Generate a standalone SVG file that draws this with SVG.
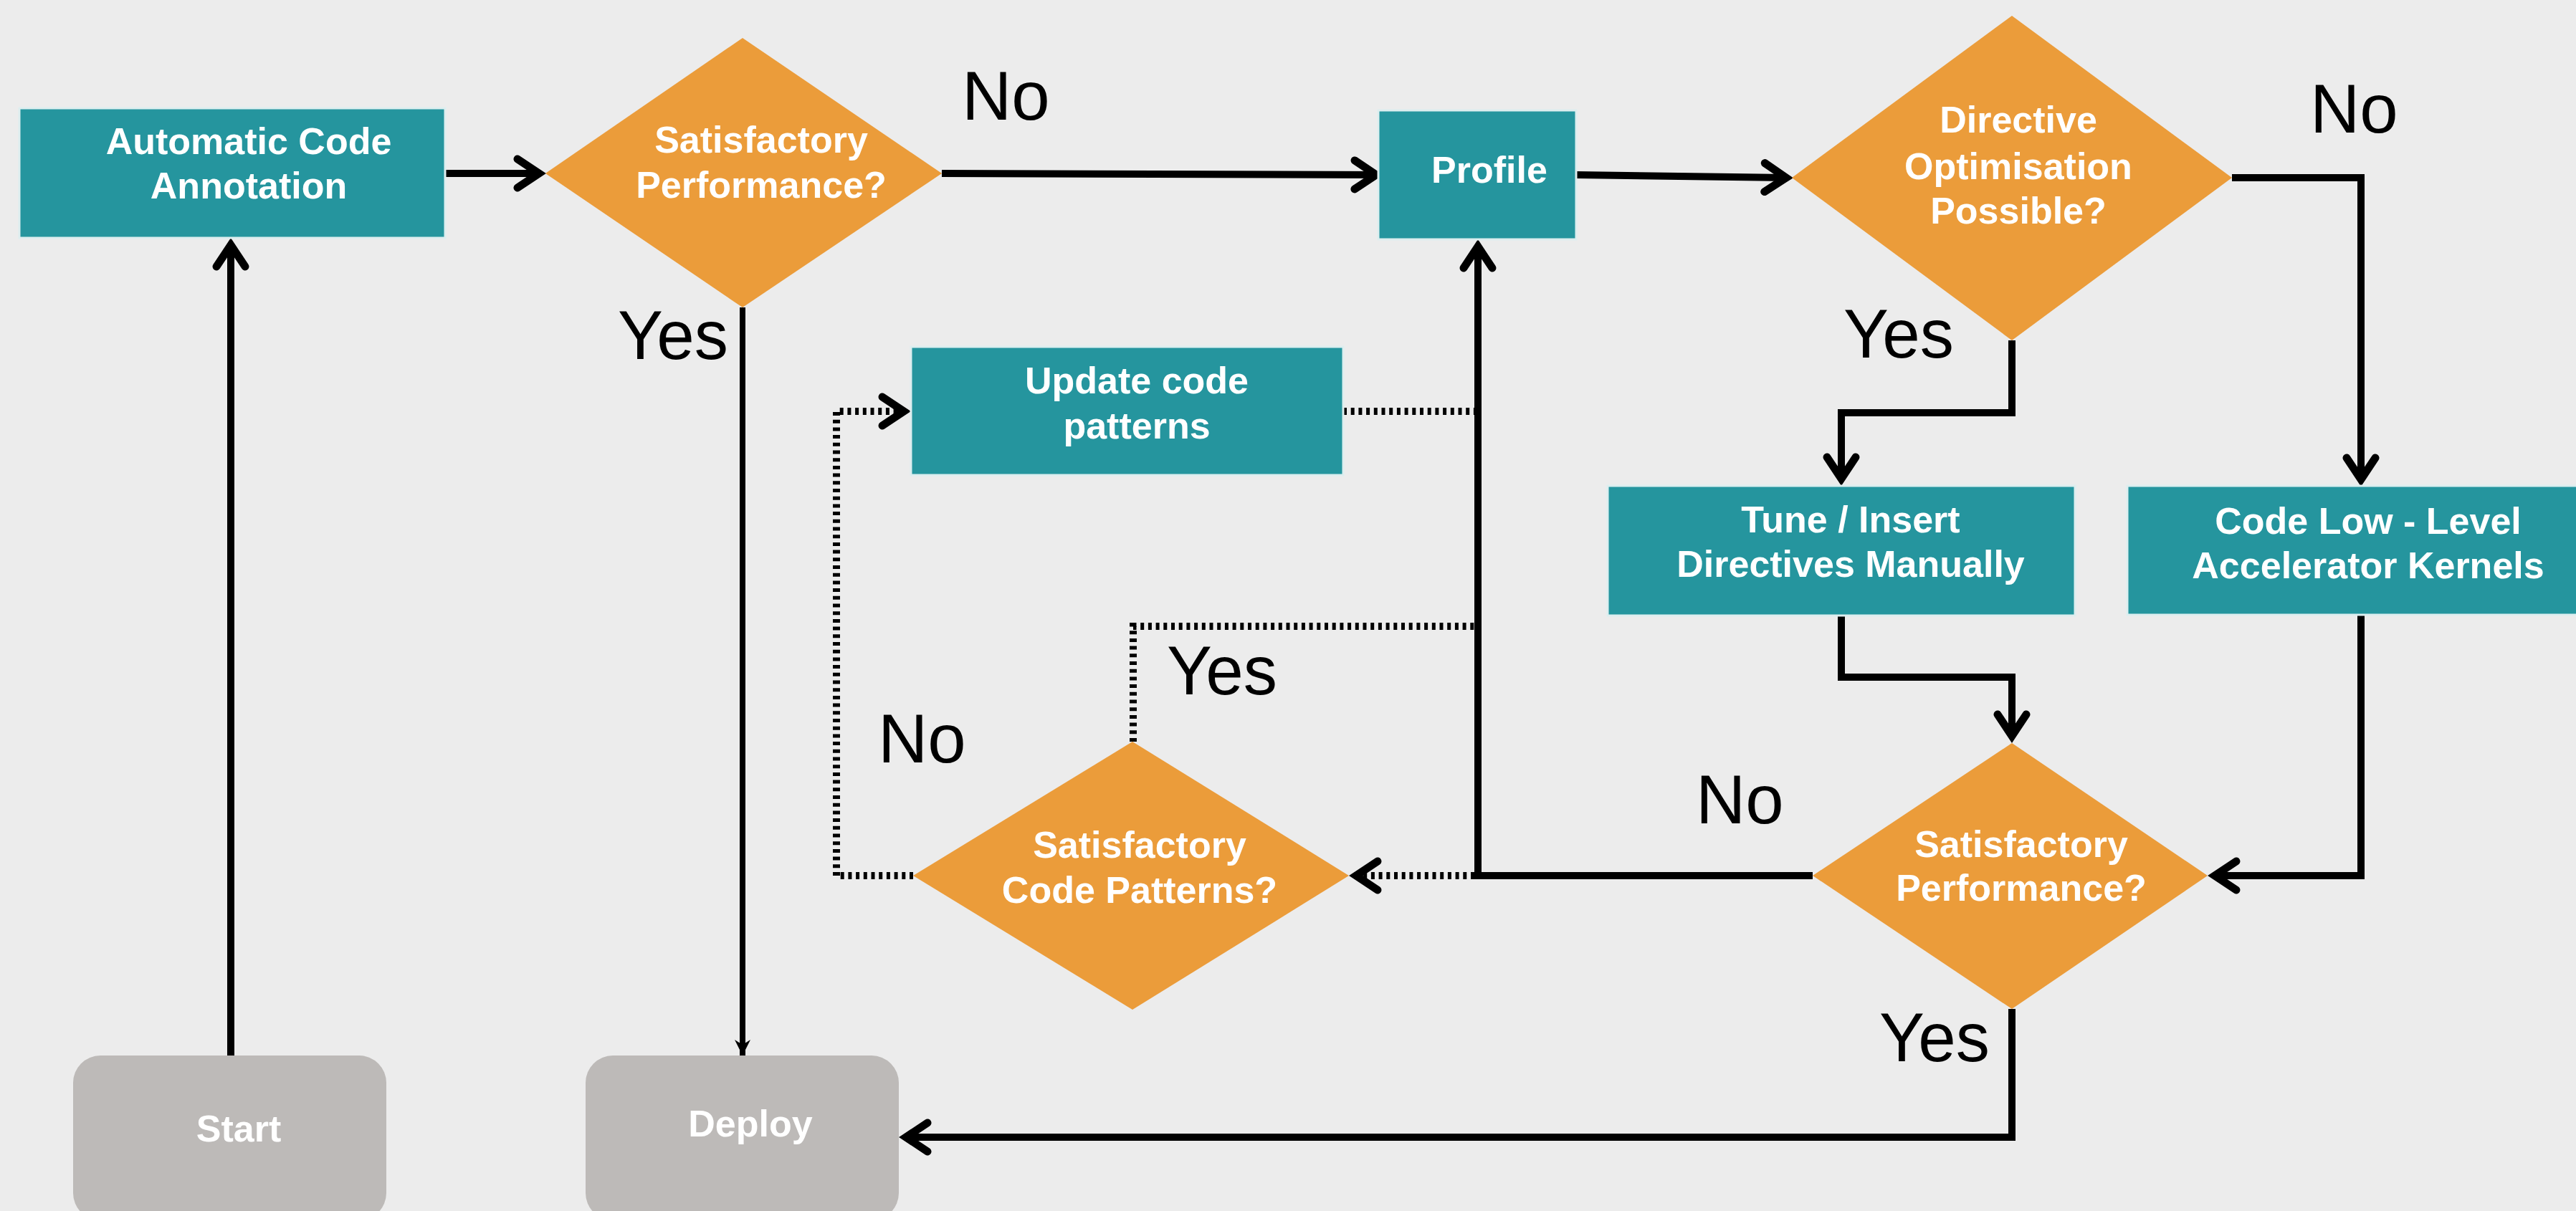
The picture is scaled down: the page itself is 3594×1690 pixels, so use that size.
<svg xmlns="http://www.w3.org/2000/svg" width="3594" height="1690" viewBox="0 0 3594 1690">
  <style>
    .bg { fill: #ECECEC; }
    .proc { fill: #25959E; stroke: #DDEEEF; stroke-width: 3; }
    .dec { fill: #EB9C3A; }
    .term { fill: #BDBAB8; }
    .nt { font-family: "Liberation Sans", Arial, sans-serif; font-weight: bold; font-size: 52px; fill: #FFFFFF; text-anchor: middle; }
    .lbl { font-family: "Liberation Sans", Arial, sans-serif; font-size: 96px; fill: #000000; }
    .ln { fill: none; stroke: #000000; stroke-width: 10; stroke-linejoin: miter; }
    .thin { stroke-width: 8; }
    .dot { fill: none; stroke: #000000; stroke-width: 10; stroke-dasharray: 5 5.7; }
  </style>
  <defs>
    <marker id="arr" markerUnits="userSpaceOnUse" orient="auto" refX="0" refY="0" markerWidth="60" markerHeight="60" viewBox="-40 -30 60 60" overflow="visible">
      <path d="M -30 -20 L 0 0 L -30 20" fill="none" stroke="#000000" stroke-width="11" stroke-linecap="round" stroke-linejoin="miter"/>
    </marker>
    <marker id="arrSmall" markerUnits="userSpaceOnUse" orient="auto" refX="0" refY="0" markerWidth="30" markerHeight="30" viewBox="-25 -15 30 30" overflow="visible">
      <path d="M 0 0 L -22 -11 L -15 0 L -22 11 Z" fill="#000000"/>
    </marker>
  </defs>

  <rect class="bg" x="0" y="0" width="3594" height="1690"/>

  <!-- connectors -->
  <g id="connectors">
    <!-- Start to Automatic Code Annotation -->
    <path class="ln" d="M 322 1473 L 322 342" marker-end="url(#arr)"/>
    <!-- Automatic Code Annotation to first decision -->
    <path class="ln" d="M 621 242 L 752 242" marker-end="url(#arr)"/>
    <!-- No: first decision to Profile -->
    <path class="ln" d="M 1314 242 L 1920 244" marker-end="url(#arr)"/>
    <!-- Yes: first decision to Deploy -->
    <path class="ln thin" d="M 1036 429 L 1036 1473" marker-end="url(#arrSmall)"/>
    <!-- Profile to directive decision -->
    <path class="ln" d="M 2199 244 L 2492 248" marker-end="url(#arr)"/>
    <!-- Yes: directive decision to Tune / Insert -->
    <path class="ln" d="M 2807 475 V 576 H 2569 V 668" marker-end="url(#arr)"/>
    <!-- No: directive decision to Code Low-Level -->
    <path class="ln" d="M 3114 248 H 3294 V 669" marker-end="url(#arr)"/>
    <!-- Tune / Insert to performance check -->
    <path class="ln" d="M 2569 859 V 945 H 2807 V 1027" marker-end="url(#arr)"/>
    <!-- Code Low-Level to performance check -->
    <path class="ln" d="M 3294 859 V 1222 H 3090" marker-end="url(#arr)"/>
    <!-- No: performance check back to Profile -->
    <path class="ln" d="M 2529 1222 H 2062 V 344" marker-end="url(#arr)"/>
    <!-- Yes: performance check to Deploy -->
    <path class="ln" d="M 2807 1408 V 1587 H 1264" marker-end="url(#arr)"/>
    <!-- dotted branch into code-pattern check -->
    <path class="dot" d="M 2057 1222 H 1892" marker-end="url(#arr)"/>
    <!-- dotted: Update code patterns back to Profile line -->
    <path class="dot" d="M 1874 574 H 2057"/>
    <!-- dotted Yes: code-pattern check to Profile line -->
    <path class="dot" d="M 1581 1035 V 874 H 2057"/>
    <!-- dotted No: code-pattern check to Update code patterns -->
    <path class="dot" d="M 1274 1222 H 1167 V 574 H 1261" marker-end="url(#arr)"/>
  </g>

  <!-- edge labels -->
  <g id="labels">
    <text class="lbl" x="1342" y="167">No</text>
    <text class="lbl" x="862" y="501" textLength="154" lengthAdjust="spacingAndGlyphs">Yes</text>
    <text class="lbl" x="3223" y="185">No</text>
    <text class="lbl" x="2572" y="499" textLength="154" lengthAdjust="spacingAndGlyphs">Yes</text>
    <text class="lbl" x="1628" y="969" textLength="154" lengthAdjust="spacingAndGlyphs">Yes</text>
    <text class="lbl" x="1225" y="1064">No</text>
    <text class="lbl" x="2366" y="1149">No</text>
    <text class="lbl" x="2622" y="1481" textLength="154" lengthAdjust="spacingAndGlyphs">Yes</text>
  </g>

  <!-- nodes -->
  <g id="auto-annotation">
    <rect class="proc" x="27" y="151" width="594" height="181"/>
    <text class="nt" x="347" y="215">Automatic Code</text>
    <text class="nt" x="347" y="277">Annotation</text>
  </g>

  <g id="perf-check-1">
    <polygon class="dec" points="1036,53 1314,242 1036,429 761,242"/>
    <text class="nt" x="1062" y="213">Satisfactory</text>
    <text class="nt" x="1062" y="276">Performance?</text>
  </g>

  <g id="profile">
    <rect class="proc" x="1923" y="154" width="276" height="180"/>
    <text class="nt" x="2078" y="255">Profile</text>
  </g>

  <g id="directive-check">
    <polygon class="dec" points="2807,22 3114,248 2807,475 2500,248"/>
    <text class="nt" x="2816" y="185">Directive</text>
    <text class="nt" x="2816" y="250">Optimisation</text>
    <text class="nt" x="2816" y="312">Possible?</text>
  </g>

  <g id="update-patterns">
    <rect class="proc" x="1271" y="484" width="603" height="179"/>
    <text class="nt" x="1586" y="549">Update code</text>
    <text class="nt" x="1586" y="612">patterns</text>
  </g>

  <g id="tune-directives">
    <rect class="proc" x="2243" y="678" width="652" height="181"/>
    <text class="nt" x="2582" y="743">Tune / Insert</text>
    <text class="nt" x="2582" y="805">Directives Manually</text>
  </g>

  <g id="low-level-kernels">
    <rect class="proc" x="2968" y="678" width="640" height="180"/>
    <text class="nt" x="3304" y="745">Code Low - Level</text>
    <text class="nt" x="3304" y="807">Accelerator Kernels</text>
  </g>

  <g id="perf-check-2">
    <polygon class="dec" points="2807,1037 3080,1222 2807,1408 2529,1222"/>
    <text class="nt" x="2820" y="1196">Satisfactory</text>
    <text class="nt" x="2820" y="1257">Performance?</text>
  </g>

  <g id="pattern-check">
    <polygon class="dec" points="1580,1035 1882,1222 1580,1409 1274,1222"/>
    <text class="nt" x="1590" y="1197">Satisfactory</text>
    <text class="nt" x="1590" y="1260">Code Patterns?</text>
  </g>

  <g id="start">
    <rect class="term" x="102" y="1473" width="437" height="230" rx="38" ry="38"/>
    <text class="nt" x="333" y="1593">Start</text>
  </g>

  <g id="deploy">
    <rect class="term" x="817" y="1473" width="437" height="230" rx="38" ry="38"/>
    <text class="nt" x="1047" y="1586">Deploy</text>
  </g>
</svg>
